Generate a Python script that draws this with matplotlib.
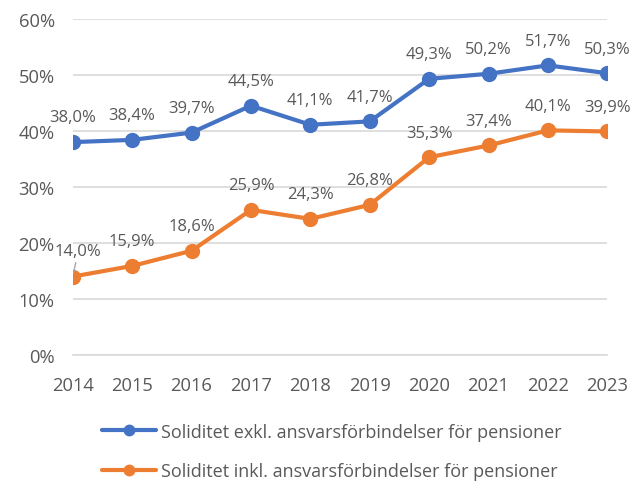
import matplotlib
matplotlib.use("Agg")
import matplotlib.pyplot as plt
from matplotlib.ticker import FuncFormatter

years = [2014, 2015, 2016, 2017, 2018, 2019, 2020, 2021, 2022, 2023]
exkl = [38.0, 38.4, 39.7, 44.5, 41.1, 41.7, 49.3, 50.2, 51.7, 50.3]
inkl = [14.0, 15.9, 18.6, 25.9, 24.3, 26.8, 35.3, 37.4, 40.1, 39.9]
series_names = [
    "Soliditet exkl. ansvarsförbindelser för pensioner",
    "Soliditet inkl. ansvarsförbindelser för pensioner",
]

BLUE = "#4472C4"
ORANGE = "#ED7D31"
TEXT = "#595959"
GRID = "#D9D9D9"

plt.rcParams["font.family"] = ["Open Sans", "DejaVu Sans"]

fig = plt.figure(figsize=(6.44, 4.85), dpi=100)
ax = fig.add_axes([0.113, 0.266, 0.830, 0.693])

for vals, col, name in [(exkl, BLUE, series_names[0]), (inkl, ORANGE, series_names[1])]:
    ax.plot(years, vals, color=col, lw=3, marker="o", ms=10, label=name,
            solid_capstyle="round", zorder=3)
    for i, (x, v) in enumerate(zip(years, vals)):
        lab = f"{v:.1f}%".replace(".", ",")
        if col == ORANGE and i == 0:
            # label pushed to the side, with a leader line
            ax.annotate(lab, (x, v), xytext=(4, 13), textcoords="offset points",
                        ha="center", va="bottom", fontsize=12, color=TEXT,
                        arrowprops=dict(arrowstyle="-", color="#A6A6A6", lw=1,
                                        shrinkA=1, shrinkB=3))
        else:
            ax.annotate(lab, (x, v), xytext=(0, 12), textcoords="offset points",
                        ha="center", va="bottom", fontsize=12, color=TEXT)

ax.set_xlim(2014, 2023)
ax.set_ylim(0, 60)
ax.set_yticks(range(0, 61, 10))
ax.yaxis.set_major_formatter(FuncFormatter(lambda v, p: f"{v:.0f}%"))
ax.set_xticks(years)
ax.grid(axis="y", color=GRID, lw=1.2, zorder=0)
for s in ["top", "right", "left"]:
    ax.spines[s].set_visible(False)
ax.spines["bottom"].set_color(GRID)
ax.spines["bottom"].set_linewidth(1.2)
ax.tick_params(length=0, labelsize=13.2, colors=TEXT)
ax.tick_params(axis="y", pad=13)
ax.tick_params(axis="x", pad=15)
ax.set_axisbelow(True)

fig.legend(loc="lower center", bbox_to_anchor=(0.515, -0.026), ncol=1, frameon=False,
           fontsize=13, labelcolor=TEXT, labelspacing=1.2, handlelength=3.0,
           handletextpad=0.3, markerscale=0.75)

fig.savefig("out.png", dpi=100)
